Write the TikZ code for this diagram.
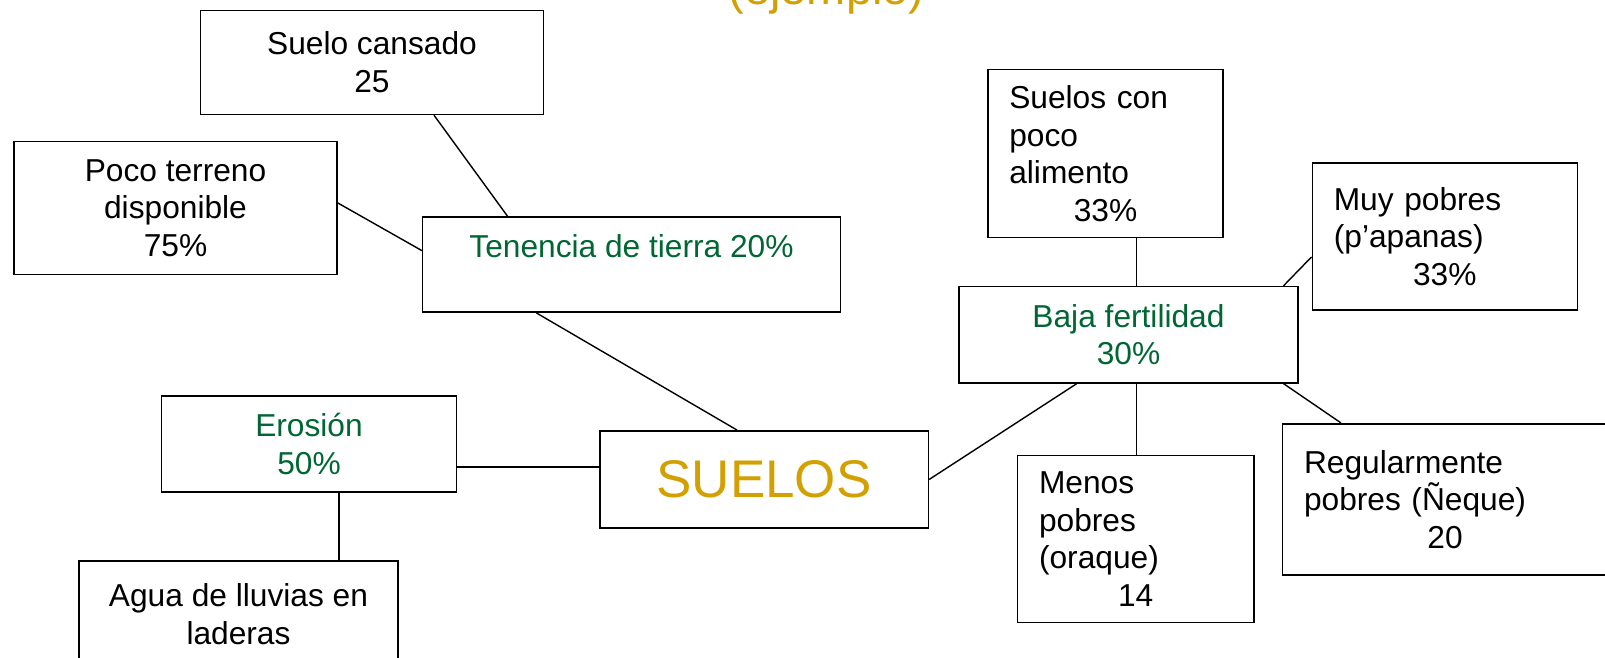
\documentclass[tikz,border=0pt]{standalone}
\usepackage{fontspec}
\setmainfont{Liberation Sans}
\definecolor{titlegold}{RGB}{210,160,0}
\definecolor{causegreen}{RGB}{0,102,51}
\begin{document}
\begin{tikzpicture}[x=1pt,y=-1pt,every node/.style={font=\fontsize{31.7}{37.5}\selectfont},box/.style={rectangle,draw,line width=1.6pt,inner sep=0pt,align=center},lbox/.style={rectangle,draw,line width=1.6pt,inner xsep=21.5pt,inner ysep=0pt,align=left},cause/.style={text=causegreen},link/.style={draw,line width=1.4pt}]
    \useasboundingbox (0,0) rectangle (1605,658);
    \node[font=\fontsize{47}{50}\selectfont,text=titlegold,anchor=base] (title) at (826.5,5) {(ejemplo)};
    % left branch
    \node[box,minimum width=343pt,minimum height=104pt] (sc) at (372,62.4) {Suelo cansado\\25};
    \node[box,minimum width=322.5pt,minimum height=133pt] (pt) at (175.5,207.8) {Poco terreno\\disponible\\75\%};
    \node[box,cause,minimum width=417.7pt,minimum height=95.2pt] (ten) at (631.5,264.6) {Tenencia de tierra 20\%\\\mbox{}};
    \node[box,cause,minimum width=295pt,minimum height=96pt] (er) at (309,444) {Erosión\\50\%};
    \node[box,minimum width=319.4pt,minimum height=106pt] (ag) at (238.5,614) {Agua de lluvias en\\laderas};
    \node[box,text=titlegold,font=\fontsize{53}{60}\selectfont,minimum width=328.6pt,minimum height=97.3pt] (su) at (764,479.5) {SUELOS};
    % right branch
    \node[box,cause,minimum width=338.8pt,minimum height=96.2pt] (bf) at (1128.5,334.7) {Baja fertilidad\\30\%};
    \node[lbox,text width=192.4pt,minimum height=168pt] (scp) at (1105.5,153.5) {Suelos con\\poco\\alimento\\\makebox[\hsize]{33\%}};
    \node[lbox,text width=222pt,minimum height=147.4pt] (mp) at (1444.8,236.5) {Muy pobres\\(p’apanas)\\\makebox[\hsize]{33\%}};
    \node[lbox,text width=193.4pt,minimum height=166.8pt] (mn) at (1135.7,538.9) {Menos\\pobres\\(oraque)\\\makebox[\hsize]{14}};
    \node[lbox,text width=282pt,minimum height=151.5pt] (rg) at (1445,499.5) {Regularmente\\pobres (Ñeque)\\\makebox[\hsize]{20}};
    \draw[link] ([xshift=62pt]sc.south) -- ([xshift=-124pt]ten.north);
    \draw[link] ([yshift=5pt]pt.east) -- ([yshift=14pt]ten.west);
    \draw[link] ([xshift=-95pt]ten.south) -- ([xshift=-27pt]su.north);
    \draw[link] ([yshift=-22.8pt]er.east) -- ([yshift=12.7pt]su.west);
    \draw[link] ([xshift=29.8pt]er.south) -- ([xshift=100.3pt]ag.north);
    \draw[link] (su.east) -- ([xshift=-51.7pt]bf.south);
    \draw[link] ([xshift=30.7pt]scp.south) -- ([xshift=7.7pt]bf.north);
    \draw[link] ([yshift=-20.5pt]mp.west) -- ([xshift=155pt]bf.north);
    \draw[link] ([xshift=7.7pt]bf.south) -- ([xshift=0.5pt]mn.north);
    \draw[link] ([xshift=155pt]bf.south) -- ([xshift=-104pt]rg.north);
\end{tikzpicture}
\end{document}
